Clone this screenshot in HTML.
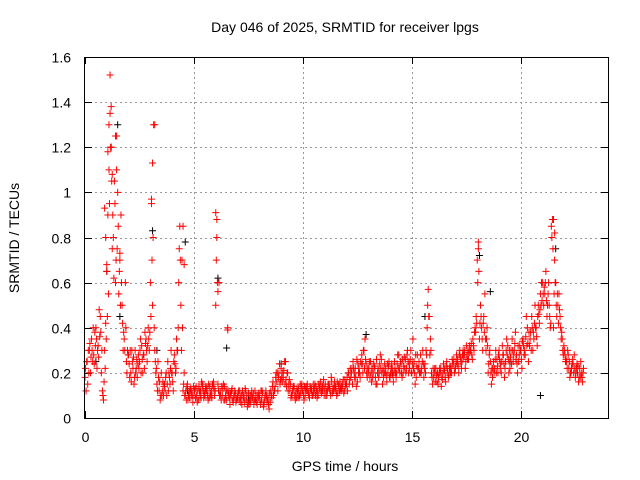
<!DOCTYPE html>
<html><head><meta charset="utf-8"><style>
body{margin:0;background:#fff;}
svg{display:block;font-family:"Liberation Sans",sans-serif;}
</style></head><body>
<svg id="c" width="640" height="480">
<text x="345" y="32" font-size="14" text-anchor="middle">Day 046 of 2025, SRMTID for receiver lpgs</text>
<text x="345" y="471" font-size="14" text-anchor="middle">GPS time / hours</text>
<text transform="translate(19,238) rotate(-90)" font-size="14" text-anchor="middle">SRMTID / TECUs</text>
<g id="grid"></g><g id="ticks"></g><g id="marks"></g>
<rect x="84.5" y="57.5" width="524" height="361" fill="none" stroke="#000"/>
</svg>
<script>
const xTicks=[0,5,10,15,20];
const yTicks=[0,0.2,0.4,0.6,0.8,1,1.2,1.4,1.6];
const yTickLabels=["0","0.2","0.4","0.6","0.8","1","1.2","1.4","1.6"];
const tStep=0.1;
const redA=[0.18,0.25,0.3,0.35,0.28,0.4,0.32,0.45,0.12,0.3,
0.65,1.1,1.2,0.8,0.6,1.0,0.7,0.5,0.35,0.25,
0.28,0.2,0.22,0.3,0.18,0.25,0.32,0.28,0.35,0.4,
0.6,0.5,0.3,0.15,0.12,0.2,0.1,0.18,0.25,0.15,
0.2,0.28,0.35,0.6,0.5,0.12,0.1,0.15,0.09,0.12,
0.1,0.14,0.08,0.12,0.15,0.1,0.13,0.09,0.12,0.16,
0.5,0.15,0.12,0.1,0.14,0.08,0.12,0.1,0.07,0.11,
0.09,0.12,0.06,0.1,0.08,0.11,0.07,0.09,0.12,0.06,
0.1,0.08,0.05,0.12,0.09,0.07,0.14,0.12,0.16,0.2,
0.22,0.18,0.25,0.2,0.12,0.1,0.14,0.09,0.13,0.11,
0.12,0.1,0.15,0.09,0.13,0.11,0.14,0.1,0.16,0.12,
0.13,0.1,0.15,0.18,0.12,0.14,0.11,0.16,0.13,0.12,
0.15,0.2,0.18,0.25,0.22,0.16,0.2,0.28,0.3,0.24,
0.2,0.25,0.18,0.22,0.15,0.2,0.26,0.18,0.22,0.2,
0.18,0.22,0.25,0.2,0.28,0.24,0.2,0.26,0.3,0.22,
0.2,0.25,0.18,0.22,0.28,0.3,0.24,0.4,0.45,0.2,
0.18,0.22,0.15,0.2,0.17,0.21,0.25,0.19,0.22,0.24,
0.22,0.26,0.3,0.25,0.28,0.32,0.26,0.3,0.35,0.4,
0.7,0.35,0.4,0.45,0.3,0.2,0.25,0.18,0.22,0.26,
0.3,0.2,0.28,0.25,0.32,0.22,0.35,0.3,0.28,0.25,
0.3,0.35,0.28,0.4,0.32,0.45,0.35,0.4,0.5,0.55,
0.6,0.55,0.45,0.5,0.85,0.4,0.6,0.5,0.45,0.35,
0.3,0.25,0.22,0.2,0.24,0.18,0.2,0.22,0.18];
const redB=[0.12,0.3,0.2,0.25,0.38,0.22,0.48,0.2,0.08,0.42,
0.9,1.35,0.75,1.05,1.25,0.55,0.9,0.3,0.6,0.3,
0.18,0.3,0.15,0.22,0.28,0.35,0.2,0.38,0.25,0.3,
0.95,1.3,0.2,0.25,0.08,0.12,0.15,0.1,0.2,0.3,
0.12,0.2,0.3,0.85,0.7,0.2,0.08,0.1,0.13,0.07,
0.13,0.07,0.12,0.16,0.09,0.14,0.08,0.11,0.15,0.1,
0.88,0.6,0.08,0.15,0.1,0.4,0.06,0.13,0.1,0.08,
0.12,0.07,0.1,0.13,0.05,0.08,0.12,0.06,0.1,0.09,
0.06,0.11,0.09,0.07,0.04,0.1,0.1,0.18,0.12,0.15,
0.16,0.25,0.14,0.15,0.09,0.13,0.08,0.12,0.1,0.15,
0.08,0.14,0.11,0.13,0.1,0.15,0.09,0.13,0.11,0.17,
0.1,0.15,0.12,0.11,0.16,0.1,0.14,0.12,0.17,0.15,
0.12,0.17,0.22,0.2,0.14,0.2,0.25,0.2,0.35,0.18,
0.25,0.16,0.24,0.15,0.22,0.28,0.15,0.24,0.16,0.25,
0.22,0.16,0.2,0.28,0.2,0.18,0.27,0.22,0.2,0.3,
0.35,0.15,0.28,0.2,0.22,0.18,0.3,0.57,0.35,0.15,
0.22,0.16,0.2,0.14,0.24,0.16,0.2,0.23,0.26,0.2,
0.28,0.2,0.25,0.3,0.22,0.26,0.32,0.28,0.3,0.45,
0.78,0.5,0.3,0.55,0.4,0.28,0.15,0.25,0.3,0.2,
0.22,0.32,0.18,0.35,0.2,0.3,0.25,0.38,0.2,0.32,
0.22,0.28,0.45,0.25,0.38,0.3,0.5,0.32,0.42,0.6,
0.5,0.65,0.55,0.4,0.88,0.7,0.45,0.55,0.35,0.28,
0.25,0.3,0.18,0.24,0.28,0.22,0.16,0.25,0.2];
const redC=[0.22,0.15,0.33,0.3,0.24,0.35,0.27,0.38,0.1,0.22,
0.45,0.95,1.05,0.62,0.7,0.85,0.5,0.42,0.3,0.2,
0.24,0.16,0.27,0.2,0.24,0.3,0.26,0.22,0.3,0.35,
0.45,0.8,0.25,0.12,0.16,0.1,0.14,0.2,0.12,0.22,
0.16,0.24,0.3,0.75,0.3,0.15,0.12,0.08,0.12,0.1,
0.12,0.1,0.14,0.09,0.12,0.13,0.1,0.14,0.09,0.13,
0.7,0.12,0.1,0.13,0.08,0.12,0.09,0.12,0.09,0.07,
0.11,0.09,0.12,0.07,0.1,0.06,0.1,0.11,0.08,0.1,
0.08,0.12,0.07,0.1,0.06,0.12,0.16,0.14,0.2,0.24,
0.18,0.21,0.17,0.12,0.15,0.12,0.1,0.13,0.09,0.14,
0.1,0.13,0.12,0.14,0.1,0.13,0.12,0.15,0.12,0.14,
0.15,0.12,0.13,0.16,0.14,0.12,0.15,0.13,0.15,0.17,
0.18,0.15,0.2,0.22,0.18,0.24,0.18,0.24,0.22,0.2,
0.22,0.2,0.2,0.18,0.2,0.24,0.2,0.2,0.19,0.23,
0.2,0.19,0.22,0.24,0.22,0.2,0.23,0.2,0.25,0.26,
0.24,0.2,0.23,0.25,0.2,0.24,0.2,0.5,0.28,0.18,
0.2,0.19,0.18,0.22,0.2,0.18,0.22,0.22,0.2,0.26,
0.25,0.23,0.27,0.28,0.3,0.28,0.29,0.33,0.32,0.38,
0.6,0.42,0.35,0.38,0.35,0.24,0.2,0.22,0.26,0.23,
0.26,0.25,0.24,0.3,0.26,0.27,0.3,0.33,0.24,0.28,
0.26,0.32,0.36,0.33,0.35,0.4,0.42,0.36,0.46,0.5,
0.55,0.6,0.5,0.45,0.8,0.55,0.5,0.42,0.4,0.3,
0.28,0.22,0.25,0.22,0.2,0.2,0.23,0.18,0.16];
const redD=[0.25,0.2,0.27,0.4,0.32,0.3,0.36,0.3,0.16,0.35,
0.55,1.2,0.9,0.95,0.75,0.65,0.6,0.38,0.4,0.28,
0.3,0.25,0.18,0.26,0.22,0.2,0.28,0.33,0.32,0.38,
0.7,0.4,0.22,0.18,0.1,0.16,0.12,0.15,0.18,0.2,
0.25,0.22,0.4,0.7,0.4,0.1,0.14,0.12,0.1,0.14,
0.09,0.12,0.1,0.14,0.11,0.12,0.15,0.1,0.14,0.12,
0.6,0.1,0.14,0.08,0.12,0.1,0.11,0.08,0.12,0.09,
0.08,0.1,0.09,0.12,0.07,0.1,0.09,0.08,0.07,0.11,
0.12,0.06,0.1,0.08,0.11,0.09,0.12,0.2,0.18,0.17,
0.2,0.15,0.2,0.17,0.1,0.14,0.11,0.1,0.15,0.12,
0.14,0.12,0.1,0.12,0.15,0.1,0.12,0.14,0.14,0.1,
0.12,0.14,0.1,0.13,0.13,0.16,0.12,0.14,0.11,0.14,
0.2,0.22,0.15,0.18,0.26,0.22,0.24,0.3,0.26,0.22,
0.18,0.22,0.23,0.26,0.18,0.22,0.22,0.2,0.24,0.18,
0.24,0.2,0.18,0.22,0.25,0.26,0.22,0.28,0.24,0.2,
0.22,0.28,0.22,0.2,0.25,0.22,0.28,0.45,0.3,0.22,
0.16,0.2,0.22,0.18,0.22,0.23,0.18,0.2,0.24,0.22,
0.24,0.28,0.22,0.27,0.25,0.3,0.3,0.26,0.38,0.42,
0.65,0.45,0.42,0.35,0.32,0.3,0.22,0.2,0.2,0.28,
0.24,0.28,0.22,0.28,0.3,0.24,0.28,0.26,0.32,0.3,
0.34,0.3,0.32,0.38,0.3,0.38,0.4,0.45,0.48,0.52,
0.58,0.52,0.6,0.42,0.75,0.6,0.55,0.48,0.38,0.32,
0.26,0.28,0.2,0.26,0.22,0.24,0.18,0.2,0.22];
const spikeT=[1.05,1.1,1.15,1.2,1.25,1.4,1.45,1.6,3.05,3.1,3.2,4.5,4.55,6.0,6.05,6.1,6.55,18.05,21.5,21.55,0.9,0.95,1.0];
const spikeV=[1.18,1.3,1.52,1.38,1.08,1.25,1.1,0.73,0.97,1.13,1.3,0.85,0.68,0.91,0.8,0.56,0.39,0.75,0.88,0.82,0.93,0.8,0.68];
const blkT=[0.5,1.0,1.2,1.5,1.6,3.1,3.3,4.6,4.7,5.5,6.1,6.5,7.5,9.0,10.5,12.9,14.1,15.6,17.4,18.1,18.6,19.5,20.9,21.6,22.3];
const blkV=[0.25,0.65,1.2,1.3,0.45,0.83,0.3,0.78,0.12,0.1,0.62,0.31,0.08,0.24,0.12,0.37,0.2,0.45,0.28,0.72,0.56,0.25,0.1,0.75,0.2];
const X0=85,X1=608,Y0=418,Y1=57,XMAX=24,YMAX=1.6;
const xs=t=>X0+(X1-X0)*t/XMAX, ys=v=>Y0-(Y0-Y1)*v/YMAX;
const NS="http://www.w3.org/2000/svg";
const G=document.getElementById('grid'),T=document.getElementById('ticks'),M=document.getElementById('marks');
function el(tag,a,p){const e=document.createElementNS(NS,tag);for(const k in a)e.setAttribute(k,a[k]);p.appendChild(e);return e;}
xTicks.forEach(v=>{const x=Math.round(xs(v))+0.5;
 if(v>0){const g=el('line',{x1:x,x2:x,y1:57,y2:418,stroke:'#999','stroke-dasharray':'2,3'},G);
 
 }
 el('line',{x1:x,x2:x,y1:418,y2:411,stroke:'#000'},T);el('line',{x1:x,x2:x,y1:57,y2:64,stroke:'#000'},T);
 const t=el('text',{x:x,y:442,'font-size':14,'text-anchor':'middle'},T);t.textContent=v;
 
 });
yTicks.forEach((v,i)=>{const y=Math.round(ys(v))+0.5;
 if(v>0&&v<YMAX){const g=el('line',{x1:85,x2:608,y1:y,y2:y,stroke:'#999','stroke-dasharray':'2,3'},G);
 
 }
 el('line',{x1:85,x2:92,y1:y,y2:y,stroke:'#000'},T);el('line',{x1:601,x2:608,y1:y,y2:y,stroke:'#000'},T);
 const t=el('text',{x:71,y:y+5,'font-size':14,'text-anchor':'end'},T);t.textContent=yTickLabels[i];
 
 });
function plus(t,v,c,name){const x=xs(t),y=ys(v);
 const p=el('path',{d:`M${x-3.5},${y}h7M${x},${y-3.5}v7`,stroke:c,'stroke-width':1,fill:'none'},M);
 
 }
blkT.forEach((t,i)=>plus(t,blkV[i],'#000','black-point'));
redA.forEach((v,i)=>plus(i*tStep,v,'#f00','red-point'));
redB.forEach((v,i)=>plus(i*tStep+0.05,v,'#f00','red-point'));
redC.forEach((v,i)=>plus(i*tStep+0.025,v,'#f00','red-point'));
redD.forEach((v,i)=>plus(i*tStep+0.075,v,'#f00','red-point'));
spikeT.forEach((t,i)=>plus(t,spikeV[i],'#f00','red-point'));
</script>
</body></html>
